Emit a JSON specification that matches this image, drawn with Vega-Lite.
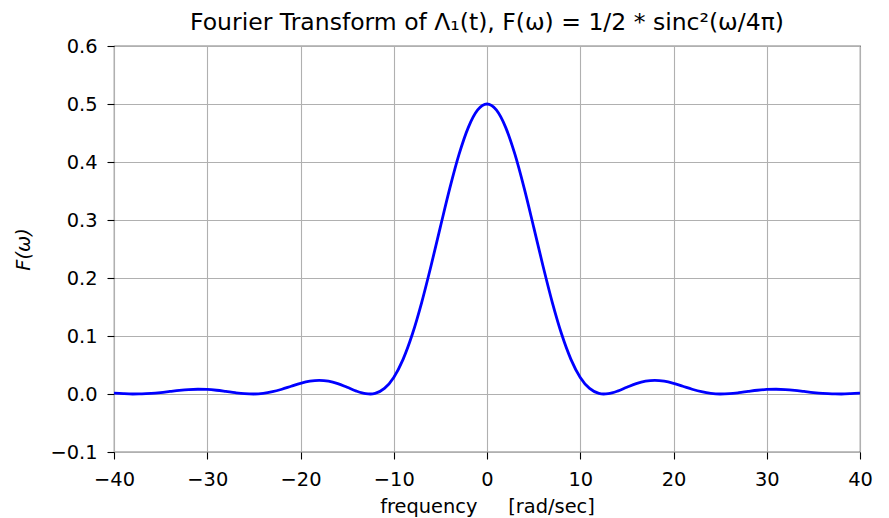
{
  "$schema": "https://vega.github.io/schema/vega-lite/v6.json",
  "width": 889,
  "height": 518,
  "autosize": {"type": "fit", "contains": "padding"},
  "padding": {"left": 13, "top": 10, "right": 16, "bottom": 2},
  "background": "white",
  "title": {
    "text": "Fourier Transform of Λ₁(t), F(ω) = 1/2 * sinc²(ω/4π)",
    "font": "DejaVu Sans",
    "fontSize": 23.5,
    "fontWeight": "normal",
    "color": "black",
    "anchor": "middle",
    "baseline": "bottom",
    "offset": -22
  },
  "config": {
    "view": {"stroke": "black", "strokeWidth": 1.1},
    "axis": {
      "labelFont": "DejaVu Sans",
      "labelFontSize": 19.4,
      "labelColor": "black",
      "titleFont": "DejaVu Sans",
      "titleFontSize": 19.4,
      "titleFontWeight": "normal",
      "titleColor": "black",
      "domain": false,
      "tickColor": "black",
      "tickSize": 7,
      "tickWidth": 1.1,
      "gridColor": "#b0b0b0",
      "gridWidth": 1.1,
      "gridOpacity": 1
    }
  },
  "data": {
    "values": [
      {"w": -40, "F": 0.00148}, {"w": -39, "F": 0.00054}, {"w": -38, "F": 0.00003}, {"w": -37, "F": 0.00018},
      {"w": -36, "F": 0.00105}, {"w": -35, "F": 0.00255}, {"w": -34, "F": 0.00441}, {"w": -33, "F": 0.00625},
      {"w": -32, "F": 0.00765}, {"w": -31, "F": 0.00823}, {"w": -30, "F": 0.00782}, {"w": -29, "F": 0.00644},
      {"w": -28, "F": 0.0044}, {"w": -27, "F": 0.00222}, {"w": -26, "F": 0.00055}, {"w": -25, "F": 0.00001},
      {"w": -24, "F": 0.00108}, {"w": -23, "F": 0.00391}, {"w": -22, "F": 0.00823}, {"w": -21, "F": 0.01338},
      {"w": -20, "F": 0.01839}, {"w": -19, "F": 0.02213}, {"w": -18, "F": 0.02359}, {"w": -17, "F": 0.02217},
      {"w": -16, "F": 0.0179}, {"w": -15, "F": 0.01162}, {"w": -14, "F": 0.00502}, {"w": -13, "F": 0.00055},
      {"w": -12.5, "F": 0.00001}, {"w": -12, "F": 0.00111}, {"w": -11, "F": 0.00963}, {"w": -10, "F": 0.02865},
      {"w": -9, "F": 0.05979}, {"w": -8, "F": 0.10335}, {"w": -7, "F": 0.15808}, {"w": -6, "F": 0.22111},
      {"w": -5, "F": 0.28818}, {"w": -4, "F": 0.35404}, {"w": -3, "F": 0.41301}, {"w": -2, "F": 0.4597},
      {"w": -1, "F": 0.48967}, {"w": 0, "F": 0.5}, {"w": 1, "F": 0.48967}, {"w": 2, "F": 0.4597},
      {"w": 3, "F": 0.41301}, {"w": 4, "F": 0.35404}, {"w": 5, "F": 0.28818}, {"w": 6, "F": 0.22111},
      {"w": 7, "F": 0.15808}, {"w": 8, "F": 0.10335}, {"w": 9, "F": 0.05979}, {"w": 10, "F": 0.02865},
      {"w": 11, "F": 0.00963}, {"w": 12, "F": 0.00111}, {"w": 12.5, "F": 0.00001}, {"w": 13, "F": 0.00055},
      {"w": 14, "F": 0.00502}, {"w": 15, "F": 0.01162}, {"w": 16, "F": 0.0179}, {"w": 17, "F": 0.02217},
      {"w": 18, "F": 0.02359}, {"w": 19, "F": 0.02213}, {"w": 20, "F": 0.01839}, {"w": 21, "F": 0.01338},
      {"w": 22, "F": 0.00823}, {"w": 23, "F": 0.00391}, {"w": 24, "F": 0.00108}, {"w": 25, "F": 0.00001},
      {"w": 26, "F": 0.00055}, {"w": 27, "F": 0.00222}, {"w": 28, "F": 0.0044}, {"w": 29, "F": 0.00644},
      {"w": 30, "F": 0.00782}, {"w": 31, "F": 0.00823}, {"w": 32, "F": 0.00765}, {"w": 33, "F": 0.00625},
      {"w": 34, "F": 0.00441}, {"w": 35, "F": 0.00255}, {"w": 36, "F": 0.00105}, {"w": 37, "F": 0.00018},
      {"w": 38, "F": 0.00003}, {"w": 39, "F": 0.00054}, {"w": 40, "F": 0.00148}
    ]
  },
  "mark": {"type": "line", "color": "#0000ff", "strokeWidth": 2.8, "interpolate": "monotone", "clip": true},
  "encoding": {
    "x": {
      "field": "w",
      "type": "quantitative",
      "scale": {"domain": [-40, 40], "nice": false, "zero": false},
      "axis": {
        "title": "frequency\u00a0\u00a0\u00a0\u00a0\u00a0[rad/sec]",
        "values": [-40, -30, -20, -10, 0, 10, 20, 30, 40],
        "labelPadding": 11,
        "titlePadding": 9,
        "labelFlush": false
      }
    },
    "y": {
      "field": "F",
      "type": "quantitative",
      "scale": {"domain": [-0.1, 0.6], "nice": false, "zero": false},
      "axis": {
        "title": "F(ω)",
        "titleFontStyle": "italic",
        "values": [-0.1, 0, 0.1, 0.2, 0.3, 0.4, 0.5, 0.6],
        "format": ".1f",
        "labelPadding": 10,
        "titlePadding": 16,
        "labelFlush": false
      }
    }
  }
}
